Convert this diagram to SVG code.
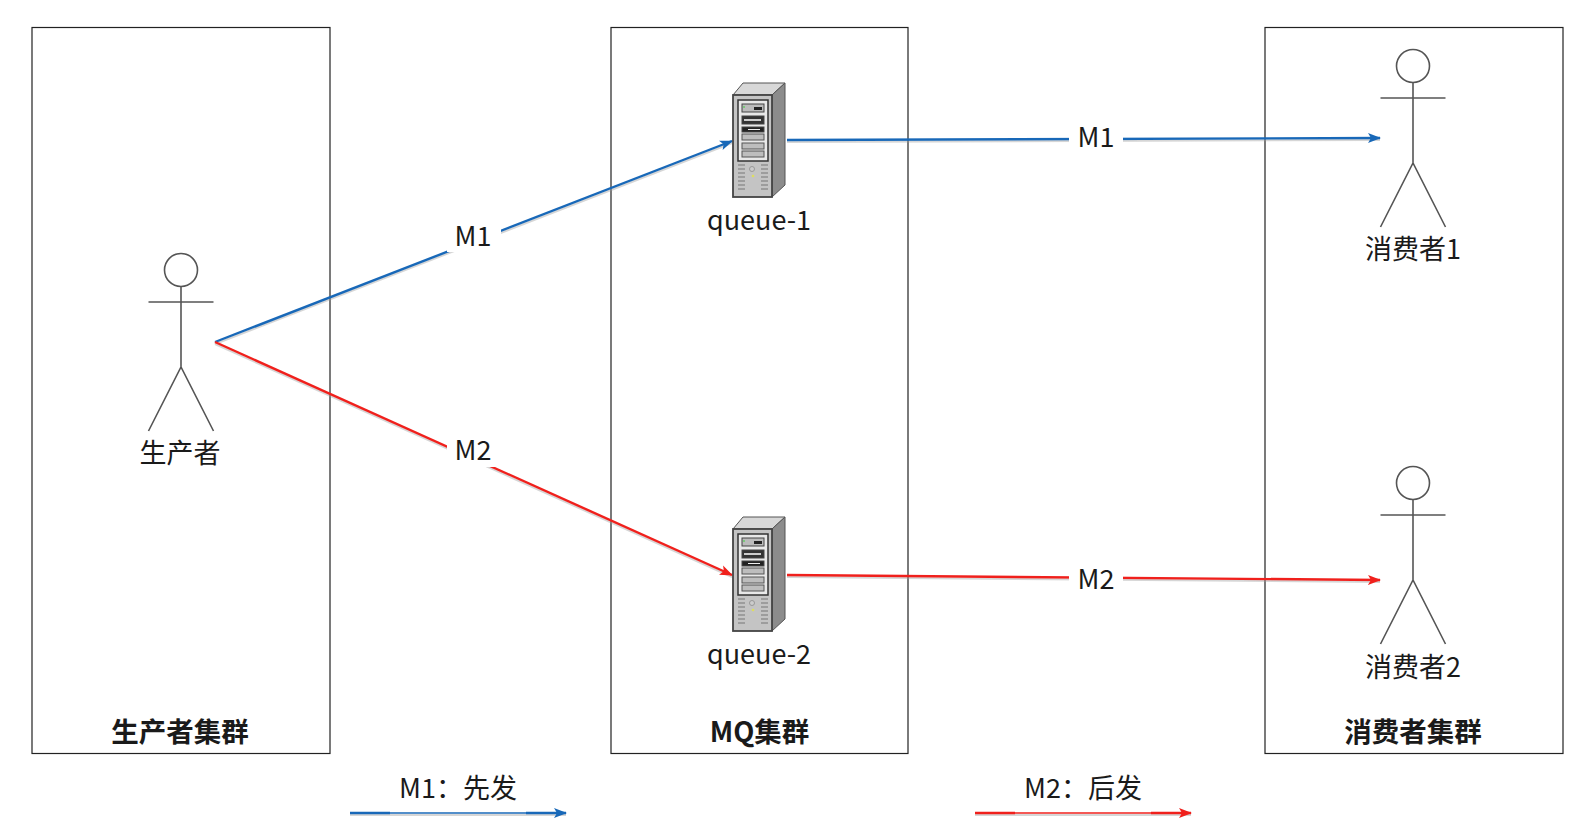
<svg xmlns="http://www.w3.org/2000/svg" xmlns:xlink="http://www.w3.org/1999/xlink" width="1579" height="830" viewBox="0 0 1579 830">
<style>
text{font-family:"Noto Sans CJK SC","Noto Sans",sans-serif;font-size:27px;fill:#1a1a1a;text-anchor:middle}
.t{font-weight:700;font-size:27.500px}
.box{fill:#fff;stroke:#222;stroke-width:1.2}
.a{fill:none;stroke:#555;stroke-width:1.6}
.b{fill:none;stroke:#1868b8;stroke-width:2.4}
.r{fill:none;stroke:#f0201c;stroke-width:2.4}
.thin{stroke-width:1.4}
.sh{fill:none;stroke:#999;stroke-width:2;opacity:.4}
.lb{fill:#fff}
</style>
<defs>
<marker id="mb" markerWidth="14" markerHeight="12" refX="12" refY="6" orient="auto" markerUnits="userSpaceOnUse"><path d="M0 1L13 6L0 11L3 6Z" fill="#1868b8"/></marker>
<marker id="mr" markerWidth="14" markerHeight="12" refX="12" refY="6" orient="auto" markerUnits="userSpaceOnUse"><path d="M0 1L13 6L0 11L3 6Z" fill="#f0201c"/></marker>
<g id="actor"><circle cx="0" cy="0" r="16.5" class="a"/><path d="M0 16.500V97M-32.500 32H32.500M-32.500 161L0 97L32.500 161" class="a"/></g>
<g id="server">
<path d="M733 95L743 83H785L772 95Z" fill="#d8d8d8" stroke="#555"/>
<path d="M772 95L785 83V185L772 197Z" fill="#8c8c8c" stroke="#555"/>
<rect x="733" y="95" width="39" height="102" fill="#c4c4c4" stroke="#444" stroke-width="1.8"/>
<rect x="738" y="100" width="30" height="61" fill="#e8e8e8" stroke="#333" stroke-width="1.5"/>
<rect x="742" y="104" width="22" height="8" fill="#bbb" stroke="#444"/><rect x="754" y="107" width="8" height="3" fill="#222"/><circle cx="744" cy="107" r="1" fill="#6c6"/>
<rect x="742" y="116" width="22" height="8" fill="#333" stroke="#444"/><rect x="744" y="119" width="17" height="2" fill="#ccc"/>
<rect x="742" y="127" width="22" height="5" fill="#222" stroke="#444"/><rect x="748" y="129" width="12" height="1" fill="#eee"/>
<rect x="742" y="134" width="22" height="6" fill="#bdbdbd" stroke="#555"/>
<rect x="742" y="143" width="22" height="6" fill="#bdbdbd" stroke="#555"/>
<rect x="742" y="151" width="22" height="6" fill="#bdbdbd" stroke="#555"/>
<path d="M738 165h7M738 169h7M738 173h7M738 177h7M738 181h7M738 185h7M738 189h7M761 165h7M761 169h7M761 173h7M761 177h7M761 181h7M761 185h7M761 189h7" stroke="#777" stroke-width="1.2" fill="none"/>
<circle cx="752" cy="169" r="2.500" fill="#ccc" stroke="#999"/><circle cx="753" cy="176" r="1.300" fill="#dede60"/>
</g>
</defs>
<g id="producer-cluster"><rect class="box" x="32" y="27.500" width="298" height="726"/><text class="t" x="180" y="742">生产者集群</text></g>
<g id="mq-cluster"><rect class="box" x="611" y="27.500" width="297" height="726"/><text class="t" x="759.500" y="742">MQ集群</text></g>
<g id="consumer-cluster"><rect class="box" x="1265" y="27.500" width="298" height="726"/><text class="t" x="1413" y="742">消费者集群</text></g>
<g id="connectors">
<path class="sh" d="M215 344L732 143M215 344L732 577M787 142L1380 140M787 577L1380 582M350 815H566M975 815H1191"/>
<path class="b" d="M215 342L732 141" marker-end="url(#mb)"/>
<path class="r" d="M215 342L732 575" marker-end="url(#mr)"/>
<path class="b" d="M787 140L1380 138" marker-end="url(#mb)"/>
<path class="r" d="M787 575L1380 580" marker-end="url(#mr)"/>
<path class="b thin" d="M350 813H566" marker-end="url(#mb)"/>
<path class="b" d="M350 813H390M526 813H566"/>
<path class="r thin" d="M975 813H1191" marker-end="url(#mr)"/>
<path class="r" d="M975 813H1015M1151 813H1191"/>
<rect class="lb" x="447" y="218" width="54" height="34"/><text x="473" y="246">M1</text>
<rect class="lb" x="447" y="433" width="54" height="34"/><text x="473" y="460">M2</text>
<rect class="lb" x="1069" y="120" width="54" height="34"/><text x="1096" y="147">M1</text>
<rect class="lb" x="1069" y="561" width="54" height="34"/><text x="1096" y="589">M2</text>
</g>
<g id="producer"><use xlink:href="#actor" href="#actor" x="181" y="270"/><text x="180" y="463">生产者</text></g>
<g id="queue-1"><use xlink:href="#server" href="#server"/><text x="759" y="230">queue-1</text></g>
<g id="queue-2"><use xlink:href="#server" href="#server" y="434"/><text x="759" y="664">queue-2</text></g>
<g id="consumer-1"><use xlink:href="#actor" href="#actor" x="1413" y="66"/><text x="1413" y="259">消费者1</text></g>
<g id="consumer-2"><use xlink:href="#actor" href="#actor" x="1413" y="483"/><text x="1413" y="677">消费者2</text></g>
<g id="legend-1"><text x="458" y="798">M1：先发</text></g>
<g id="legend-2"><text x="1083" y="798">M2：后发</text></g>
</svg>
